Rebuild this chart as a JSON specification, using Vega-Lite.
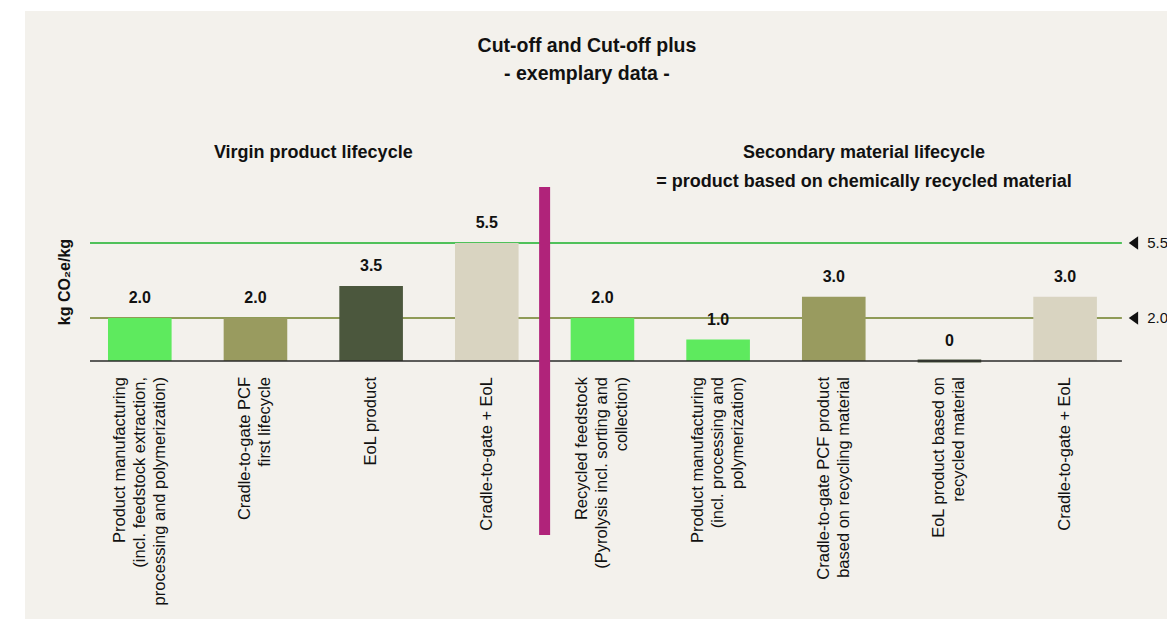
{
  "$schema": "https://vega.github.io/schema/vega-lite/v6.json",
  "width": 1142,
  "height": 608,
  "autosize": {"type": "none"},
  "padding": {"left": 25, "top": 11, "right": 0, "bottom": 0},
  "background": "#ffffff",
  "view": {"fill": "#f3f1ec", "stroke": null},
  "config": {"font": "Liberation Sans", "text": {"font": "Liberation Sans", "color": "#111111"}},
  "datasets": {
    "bars": [
      {"step": 1, "type": "Manufacturing", "value": 2.0, "lines": ["Product manufacturing", "(incl. feedstock extraction,", "processing and polymerization)"]},
      {"step": 2, "type": "Cradle-to-gate PCF", "value": 2.0, "lines": ["Cradle-to-gate PCF", "first lifecycle"]},
      {"step": 3, "type": "EoL", "value": 3.5, "lines": ["EoL product"]},
      {"step": 4, "type": "Cradle-to-gate + EoL", "value": 5.5, "lines": ["Cradle-to-gate + EoL"]},
      {"step": 5, "type": "Manufacturing", "value": 2.0, "lines": ["Recycled feedstock", "(Pyrolysis incl. sorting and", "collection)"]},
      {"step": 6, "type": "Manufacturing", "value": 1.0, "lines": ["Product manufacturing", "(incl. processing and", "polymerization)"]},
      {"step": 7, "type": "Cradle-to-gate PCF", "value": 3.0, "lines": ["Cradle-to-gate PCF product", "based on recycling material"]},
      {"step": 8, "type": "EoL", "value": 0, "lines": ["EoL product based on", "recycled material"]},
      {"step": 9, "type": "Cradle-to-gate + EoL", "value": 3.0, "lines": ["Cradle-to-gate + EoL"]}
    ],
    "refs": [
      {"level": 5.5, "line": "Cradle-to-gate + EoL"},
      {"level": 2.0, "line": "Product manufacturing"}
    ],
    "one": [{"item": 1}]
  },
  "data": {"name": "bars"},
  "layer": [
    {
      "data": {"name": "refs"},
      "mark": {"type": "rule", "strokeWidth": 2},
      "encoding": {
        "x": {"datum": 0.5695, "type": "quantitative", "axis": null},
        "x2": {"datum": 9.491},
        "y": {"field": "level", "type": "quantitative", "axis": null},
        "color": {"field": "line", "type": "nominal", "scale": {"domain": ["Cradle-to-gate + EoL", "Product manufacturing"], "range": ["#4fc15a", "#8f9b57"]}, "legend": null}
      }
    },
    {
      "mark": {"type": "bar", "width": 63.6, "strokeWidth": 3},
      "encoding": {
        "x": {"field": "step", "type": "quantitative", "axis": null,
              "scale": {"domain": [0.0075, 9.881], "nice": false, "zero": false, "padding": 0}},
        "y": {"field": "value", "type": "quantitative", "axis": null,
              "scale": {"domain": [-12.025, 16.314], "nice": false, "zero": false, "padding": 0}},
        "y2": {"datum": 0},
        "fill": {"field": "type", "type": "nominal",
                 "scale": {"domain": ["Manufacturing", "Cradle-to-gate PCF", "EoL", "Cradle-to-gate + EoL"], "range": ["#5eea5e", "#999b5f", "#4b573d", "#d9d4c1"]},
                 "legend": null},
        "stroke": {"condition": {"test": "datum.value === 0", "value": "#4b573d"}, "value": "transparent"}
      }
    },
    {
      "data": {"name": "one"},
      "mark": {"type": "rule", "strokeWidth": 1.5, "color": "#2a2a2a"},
      "encoding": {
        "x": {"datum": 0.5695, "type": "quantitative", "axis": null},
        "x2": {"datum": 9.491},
        "y": {"datum": 0, "type": "quantitative", "axis": null}
      }
    },
    {
      "mark": {"type": "text", "fontSize": 16, "fontWeight": "bold", "baseline": "alphabetic", "dy": -15},
      "encoding": {
        "x": {"field": "step", "type": "quantitative", "axis": null},
        "y": {"field": "value", "type": "quantitative", "axis": null},
        "text": {"condition": {"test": "datum.value === 0", "value": "0"}, "field": "value", "type": "quantitative", "format": ".1f"}
      }
    },
    {
      "transform": [{"filter": "length(datum.lines) == 1"}],
      "mark": {"type": "text", "fontSize": 16.5, "angle": 270, "align": "right", "baseline": "middle", "lineHeight": 20},
      "encoding": {
        "x": {"field": "step", "type": "quantitative", "axis": null},
        "y": {"datum": -0.746, "type": "quantitative", "axis": null},
        "text": {"field": "lines", "type": "nominal"}
      }
    },
    {
      "transform": [{"filter": "length(datum.lines) == 2"}],
      "mark": {"type": "text", "fontSize": 16.5, "angle": 270, "align": "right", "baseline": "middle", "lineHeight": 20, "dy": -10},
      "encoding": {
        "x": {"field": "step", "type": "quantitative", "axis": null},
        "y": {"datum": -0.746, "type": "quantitative", "axis": null},
        "text": {"field": "lines", "type": "nominal"}
      }
    },
    {
      "transform": [{"filter": "length(datum.lines) == 3"}],
      "mark": {"type": "text", "fontSize": 16.5, "angle": 270, "align": "right", "baseline": "middle", "lineHeight": 20, "dy": -20},
      "encoding": {
        "x": {"field": "step", "type": "quantitative", "axis": null},
        "y": {"datum": -0.746, "type": "quantitative", "axis": null},
        "text": {"field": "lines", "type": "nominal"}
      }
    },
    {
      "data": {"name": "one"},
      "mark": {"type": "rule", "strokeWidth": 11, "color": "#b0237a", "strokeCap": "butt"},
      "encoding": {
        "x": {"datum": 4.5, "type": "quantitative", "axis": null},
        "y": {"datum": 8.11, "type": "quantitative", "axis": null},
        "y2": {"datum": -8.11}
      }
    },
    {
      "data": {"name": "one"},
      "mark": {"type": "text", "text": "kg CO₂e/kg", "fontSize": 16, "fontWeight": "bold", "angle": 270, "align": "center", "baseline": "middle"},
      "encoding": {
        "x": {"datum": 0.3533, "type": "quantitative", "axis": null},
        "y": {"datum": 3.682, "type": "quantitative", "axis": null}
      }
    },
    {
      "data": {"name": "one"},
      "mark": {"type": "text", "text": "Virgin product lifecycle", "fontSize": 18, "fontWeight": "bold", "align": "center", "baseline": "alphabetic"},
      "encoding": {
        "x": {"datum": 2.5, "type": "quantitative", "axis": null},
        "y": {"datum": 9.46, "type": "quantitative", "axis": null}
      }
    },
    {
      "data": {"name": "one"},
      "mark": {"type": "text", "text": ["Secondary material lifecycle", "= product based on chemically recycled material"], "fontSize": 18, "fontWeight": "bold", "align": "center", "baseline": "alphabetic", "lineHeight": 29},
      "encoding": {
        "x": {"datum": 7.261, "type": "quantitative", "axis": null},
        "y": {"datum": 9.46, "type": "quantitative", "axis": null}
      }
    },
    {
      "data": {"name": "one"},
      "mark": {"type": "text", "text": ["Cut-off and Cut-off plus", "- exemplary data -"], "fontSize": 19.5, "fontWeight": "bold", "align": "center", "baseline": "alphabetic", "lineHeight": 28},
      "encoding": {
        "x": {"datum": 4.866, "type": "quantitative", "axis": null},
        "y": {"datum": 14.4, "type": "quantitative", "axis": null}
      }
    },
    {
      "data": {"name": "refs"},
      "mark": {"type": "point", "shape": "M0.7,-1L-0.7,0L0.7,1Z", "size": 180, "filled": true, "color": "#111111", "opacity": 1},
      "encoding": {
        "x": {"datum": 9.591, "type": "quantitative", "axis": null},
        "y": {"field": "level", "type": "quantitative", "axis": null}
      }
    },
    {
      "data": {"name": "refs"},
      "mark": {"type": "text", "fontSize": 15, "align": "left", "baseline": "middle"},
      "encoding": {
        "x": {"datum": 9.71, "type": "quantitative", "axis": null},
        "y": {"field": "level", "type": "quantitative", "axis": null},
        "text": {"field": "level", "type": "quantitative", "format": ".1f"}
      }
    }
  ]
}
